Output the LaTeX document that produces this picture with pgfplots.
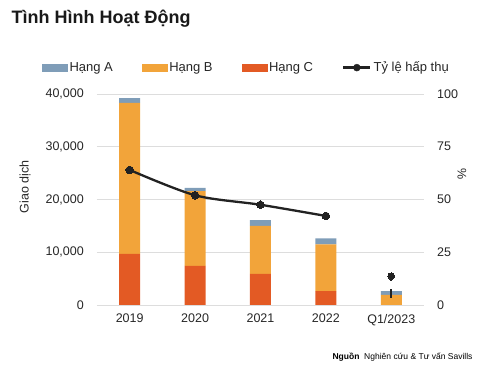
\documentclass[border=0pt]{standalone}
\usepackage{pgfplots}
\pgfplotsset{compat=1.18}
\usepackage{fontspec}
\setmainfont{Liberation Sans}
\definecolor{colA}{HTML}{7F9DB8}
\definecolor{colB}{HTML}{F2A43A}
\definecolor{colC}{HTML}{E35A24}
\definecolor{gridc}{HTML}{DDDDDD}
\definecolor{linec}{HTML}{222222}
\begin{document}
\begin{tikzpicture}
\path[use as bounding box] (0pt,0pt) rectangle (488pt,366pt);
\node[anchor=west, font=\fontsize{18}{20}\selectfont\bfseries, text=black!90] at (8pt,347pt) {Tình Hình Hoạt Động};
\begin{axis}[
  at={(97pt,61pt)}, anchor=south west,
  scale only axis, width=327pt, height=211pt,
  xmin=-0.5, xmax=4.5, ymin=0, ymax=40000,
  ybar stacked, bar width=21pt,
  xtick={0,1,2,3,4},
  xticklabels={2019,2020,2021,2022,Q1/2023},
  ytick={0,10000,20000,30000,40000},
  scaled y ticks=false,
  major tick length=0pt,
  axis line style={draw=none},
  ymajorgrids, grid style={gridc, line width=0.8pt},
  yticklabel style={/pgf/number format/1000 sep={,}, /pgf/number format/fixed, inner sep=0pt, anchor=east},
  /pgf/number format/assume math mode=true,
  yticklabel shift=13pt,
  xticklabel shift=9pt,
  xticklabel style={inner sep=0pt, anchor=north},
  tick label style={font=\fontsize{12.5}{14}\selectfont, text=black!85},
  ylabel={Giao dịch},
  ylabel style={at={(axis description cs:-0.220,0.56)}, anchor=center, font=\fontsize{12.5}{14}\selectfont, text=black!85},
  legend columns=4,
  legend style={at={(axis description cs:0.457,1.125)}, anchor=center, draw=none, fill=none,
    font=\fontsize{13}{15}\selectfont, text=black!85,
    /tikz/every even column/.append style={column sep=27pt},
    nodes={inner xsep=2pt}},
]
\addlegendimage{legend image code/.code={\fill[colA] (0pt,-3.5pt) rectangle (25pt,3.5pt);}}
\addlegendentry{Hạng A}
\addlegendimage{legend image code/.code={\fill[colB] (0pt,-3.5pt) rectangle (25pt,3.5pt);}}
\addlegendentry{Hạng B}
\addlegendimage{legend image code/.code={\fill[colC] (0pt,-3.5pt) rectangle (25pt,3.5pt);}}
\addlegendentry{Hạng C}
\addlegendimage{legend image code/.code={\draw[linec, line width=2.5pt] (0pt,0pt) -- (27pt,0pt); \fill[linec] (13.5pt,0pt) circle (3.5pt);}}
\addlegendentry{Tỷ lệ hấp thụ}
\addplot[fill=colC, draw=none, forget plot] coordinates {(0,9700) (1,7400) (2,5900) (3,2650) (4,0)};
\addplot[fill=colB, draw=none, forget plot] coordinates {(0,28600) (1,14200) (2,9100) (3,8850) (4,1900)};
\addplot[fill=colA, draw=none, forget plot] coordinates {(0,900) (1,600) (2,1100) (3,1150) (4,750)};
\end{axis}
\begin{axis}[
  at={(97pt,61pt)}, anchor=south west,
  scale only axis, width=327pt, height=211pt,
  xmin=-0.5, xmax=4.5, ymin=0, ymax=100,
  axis x line=none,
  axis y line*=right,
  axis line style={draw=none},
  ytick={0,25,50,75,100},
  major tick length=0pt,
  /pgf/number format/assume math mode=true,
  yticklabel style={inner sep=0pt, anchor=west},
  yticklabel shift=13pt,
  tick label style={font=\fontsize{12.5}{14}\selectfont, text=black!85},
  ylabel={\%},
  ylabel style={at={(axis description cs:1.116,0.62)}, anchor=center, rotate=180, font=\fontsize{12.5}{14}\selectfont, text=black!85},
]
\addplot[linec, line width=2.3pt, smooth, tension=0.5, mark=*, mark size=3.8pt, mark options={fill=linec, draw=linec, line width=0pt}] coordinates {(0,64) (1,52) (2,47.5) (3,42.2)};
\addplot[linec, line width=0pt, only marks, mark=*, mark size=3.3pt, mark options={fill=linec, draw=linec}] coordinates {(4,13.6)};
\addplot[linec, line width=1.6pt] coordinates {(4,11.5) (4,13.0)};
\addplot[linec, line width=2pt] coordinates {(4,3.4) (4,7.7)};
\end{axis}
\node[anchor=east, font=\fontsize{8.5}{10}\selectfont] at (476pt,9pt) {\textbf{Nguồn}\ \ Nghiên cứu \& Tư vấn Savills};
\end{tikzpicture}
\end{document}
